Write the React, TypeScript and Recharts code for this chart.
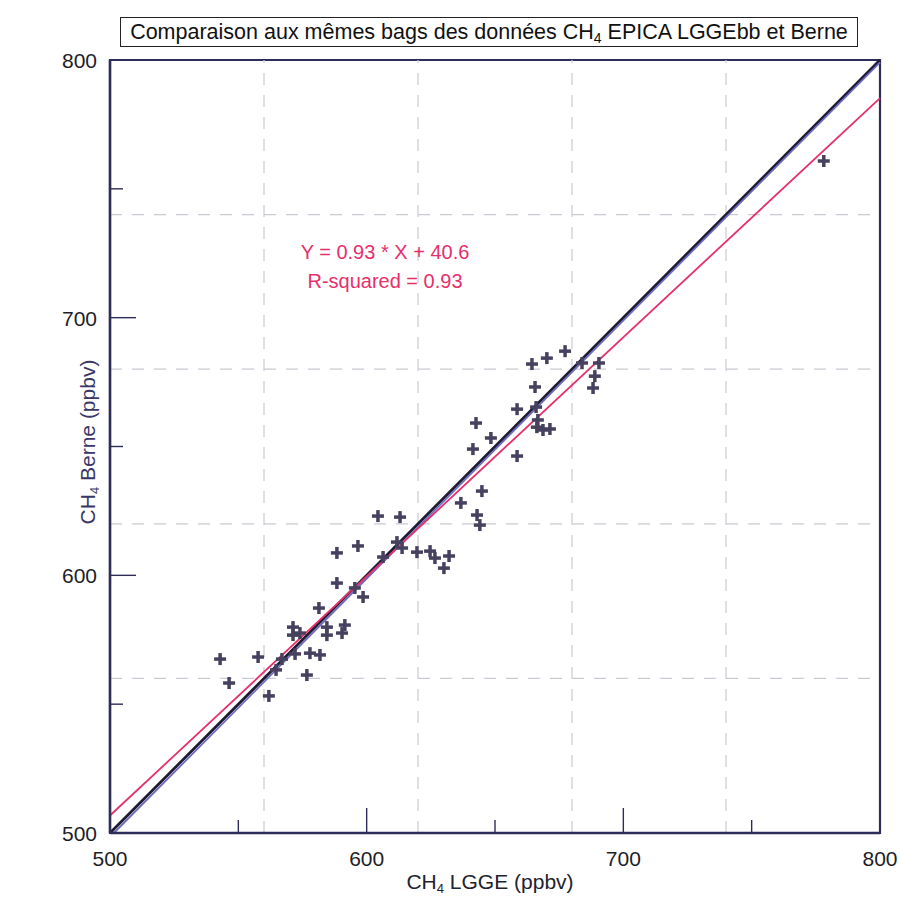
import React from 'react';
import { ScatterChart, Scatter, XAxis, YAxis, ReferenceLine, ReferenceArea } from 'recharts';

// CH4 LGGE (x) vs CH4 Berne (y), ppbv
const lggeValues = [
  542.9, 546.4, 557.7, 561.9, 564.7, 567.0, 572.1, 571.3, 571.3, 574.0,
  576.7, 577.9, 581.8, 581.4, 584.5, 584.5, 590.4, 591.5, 588.4, 588.4,
  596.6, 595.4, 598.6, 604.4, 613.0, 606.4, 611.8, 613.8, 619.6, 624.7,
  626.6, 632.1, 630.1, 636.7, 644.9, 643.0, 644.1, 641.4, 642.6, 648.4,
  658.6, 658.6, 665.6, 666.0, 666.7, 666.3, 668.7, 671.4, 664.4, 670.2,
  677.3, 683.9, 690.5, 688.9, 688.2, 778.1,
];
const berneValues = [
  567.5, 558.2, 568.3, 553.2, 563.3, 567.5, 569.5, 579.9, 576.8, 577.6,
  561.3, 569.8, 569.1, 587.3, 579.9, 576.8, 577.6, 580.7, 597.0, 608.7,
  611.4, 595.1, 591.6, 623.0, 622.6, 607.1, 612.9, 610.6, 609.0, 609.4,
  606.7, 607.5, 602.8, 628.1, 632.7, 623.4, 619.5, 649.0, 659.1, 653.3,
  646.3, 664.5, 673.1, 665.3, 660.3, 657.5, 656.4, 656.8, 682.0, 684.3,
  687.0, 682.4, 682.4, 677.3, 672.7, 760.8,
];

const axisTicks = [500, 550, 600, 650, 700, 750, 800];
const labelTicks = [500, 600, 700, 800];
const gridValues = [560, 620, 680, 740];

// line endpoints [x, y]
const oneToOneLine = [[500, 500], [800, 800]];
const blueLine = [[501.5, 500], [800, 799.1]];
const fitLine = [[500, 506.8], [800, 785.2]];

const points = lggeValues.map((x, i) => ({ x, y: berneValues[i] }));

const FONT = '"Liberation Sans", Arial, sans-serif';
const AXIS = '#2e2d5a';

const Plus = (props: any) => {
  const { cx, cy } = props;
  if (cx == null || cy == null) return null;
  const r = 6;
  return (
    <g>
      <line x1={cx - r} x2={cx + r} y1={cy} y2={cy} stroke="#46415f" strokeWidth={3.5} />
      <line x1={cx} x2={cx} y1={cy - r} y2={cy + r} stroke="#46415f" strokeWidth={3.5} />
    </g>
  );
};

const XTick = (props: any) => {
  const { x, y, payload } = props;
  const v = payload.value;
  const major = labelTicks.includes(v);
  const len = v === 500 || v === 800 ? 0 : major ? 25 : 13;
  return (
    <g>
      {len > 0 && <line x1={x} x2={x} y1={y} y2={y - len} stroke={AXIS} strokeWidth={1.4} />}
      {major && (
        <text x={x} y={y + 33} textAnchor="middle" fontSize={21} fontFamily={FONT} fill="#1e1e26">
          {v}
        </text>
      )}
    </g>
  );
};

const YTick = (props: any) => {
  const { x, y, payload } = props;
  const v = payload.value;
  const major = labelTicks.includes(v);
  const len = v === 500 || v === 800 ? 0 : major ? 26 : 13;
  return (
    <g>
      {len > 0 && <line x1={x} x2={x + len} y1={y} y2={y} stroke={AXIS} strokeWidth={1.4} />}
      {major && (
        <text x={x - 13} y={y + 8} textAnchor="end" fontSize={21} fontFamily={FONT} fill="#1e1e26">
          {v}
        </text>
      )}
    </g>
  );
};

export default function App() {
  return (
    <div style={{ position: 'absolute', left: 0, top: 0, width: 900, height: 897, background: '#fff' }}>
      <ScatterChart
        width={900}
        height={897}
        margin={{ top: 60, right: 20, bottom: 24, left: 50 }}
      >
        <XAxis
          type="number"
          dataKey="x"
          domain={[500, 800]}
          ticks={axisTicks}
          tick={<XTick />}
          tickSize={0}
          tickMargin={0}
          tickLine={false}
          height={40}
          allowDataOverflow
          axisLine={{ stroke: AXIS, strokeWidth: 2.5 }}
          interval={0}
        />
        <YAxis
          type="number"
          dataKey="y"
          domain={[500, 800]}
          ticks={axisTicks}
          tick={<YTick />}
          tickSize={0}
          tickMargin={0}
          tickLine={false}
          width={60}
          allowDataOverflow
          axisLine={{ stroke: AXIS, strokeWidth: 2.5 }}
          interval={0}
        />
        {gridValues.map((g) => (
          <ReferenceLine key={'vx' + g} x={g} stroke="#cacad2" strokeDasharray="12 10" strokeWidth={1.2} />
        ))}
        {gridValues.map((g) => (
          <ReferenceLine key={'hy' + g} y={g} stroke="#cacad2" strokeDasharray="12 10" strokeWidth={1.2} />
        ))}
        <ReferenceArea x1={500} x2={800} y1={500} y2={800} fill="none" stroke={AXIS} strokeWidth={2.2} />
        <ReferenceLine
          segment={[{ x: oneToOneLine[0][0], y: oneToOneLine[0][1] }, { x: oneToOneLine[1][0], y: oneToOneLine[1][1] }]}
          stroke="#1d1c33"
          strokeWidth={2.8}
          ifOverflow="visible"
        />
        <ReferenceLine
          segment={[{ x: blueLine[0][0], y: blueLine[0][1] }, { x: blueLine[1][0], y: blueLine[1][1] }]}
          stroke="#6d69bd"
          strokeWidth={1.8}
          ifOverflow="visible"
        />
        <ReferenceLine
          segment={[{ x: fitLine[0][0], y: fitLine[0][1] }, { x: fitLine[1][0], y: fitLine[1][1] }]}
          stroke="#e6306c"
          strokeWidth={1.8}
          ifOverflow="visible"
        />
        <Scatter data={points} shape={<Plus />} isAnimationActive={false} />
      </ScatterChart>

      <div
        style={{
          position: 'absolute',
          left: 120,
          top: 17,
          width: 736,
          height: 28,
          border: '1.5px solid #222',
          fontFamily: FONT,
          fontSize: 21.5,
          lineHeight: '28px',
          textAlign: 'center',
          color: '#111',
          whiteSpace: 'nowrap',
          background: '#fff',
        }}
      >
        Comparaison aux mêmes bags des données CH<sub style={{ fontSize: 14, verticalAlign: -4, lineHeight: 0 }}>4</sub> EPICA LGGEbb et Berne
      </div>

      <div
        style={{
          position: 'absolute',
          left: 235,
          width: 300,
          top: 238,
          textAlign: 'center',
          fontFamily: FONT,
          fontSize: 20,
          lineHeight: '29px',
          color: '#e6306c',
        }}
      >
        <div>Y = 0.93 * X + 40.6</div>
        <div>R-squared = 0.93</div>
      </div>

      <div
        style={{
          position: 'absolute',
          left: 340,
          width: 300,
          top: 870,
          textAlign: 'center',
          fontFamily: FONT,
          fontSize: 21,
          color: '#22222e',
          whiteSpace: 'nowrap',
        }}
      >
        CH<sub style={{ fontSize: 13, verticalAlign: -4, lineHeight: 0 }}>4</sub> LGGE (ppbv)
      </div>

      <div
        style={{
          position: 'absolute',
          left: 88 - 150,
          top: 442 - 13,
          width: 300,
          height: 26,
          textAlign: 'center',
          fontFamily: FONT,
          fontSize: 21,
          lineHeight: '26px',
          color: '#3a3668',
          whiteSpace: 'nowrap',
          transform: 'rotate(-90deg)',
        }}
      >
        CH<sub style={{ fontSize: 13, verticalAlign: -4, lineHeight: 0 }}>4</sub> Berne (ppbv)
      </div>
    </div>
  );
}
